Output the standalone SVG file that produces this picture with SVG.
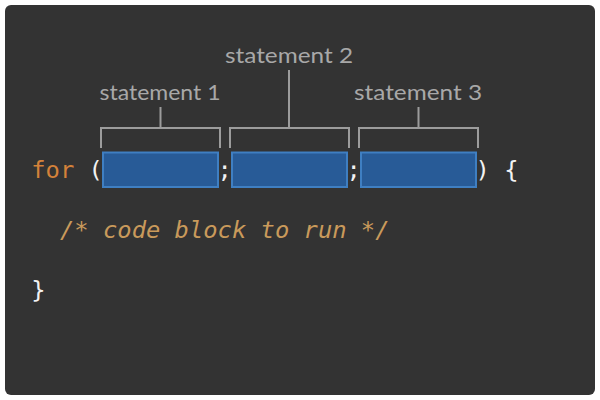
<svg xmlns="http://www.w3.org/2000/svg" width="600" height="400" viewBox="0 0 600 400">
<style>
.code{font-family:"DejaVu Sans Mono","Liberation Mono",monospace;font-size:23.8px}
.kw{fill:#d4823a}
.pl{fill:#f2f2f2}
.cm{fill:#c99a5b;font-style:italic}
.lbl{font-family:Lato,"Liberation Sans",Arial,sans-serif;font-size:22px;fill:#a8a8a8;text-anchor:middle}
.br{fill:none;stroke:#9c9c9c;stroke-width:2}
.box{fill:#285b97;stroke:#3f7fc2;stroke-width:2}
</style>
<rect x="0" y="0" width="600" height="400" fill="#ffffff"/>
<rect x="5" y="5" width="590" height="390" rx="6" fill="#333333"/>
<g id="code">
<text class="code kw" x="31.3" y="178">for</text>
<text class="code pl" x="88.6" y="178">(</text>
<text class="code pl" x="217.6" y="178">;</text>
<text class="code pl" x="346.6" y="178">;</text>
<text class="code pl" x="475.6" y="178">)</text>
<text class="code pl" x="504.3" y="178">{</text>
<text class="code cm" x="60" y="238">/* code block to run */</text>
<text class="code pl" x="31.3" y="298">}</text>
</g>
<g id="statement1">
<rect class="box" x="103" y="152.5" width="115" height="34.5"/>
<text class="lbl" x="160" y="100" textLength="121" lengthAdjust="spacingAndGlyphs">statement 1</text>
</g>
<g id="statement2">
<rect class="box" x="232" y="152.5" width="115" height="34.5"/>
<text class="lbl" x="289" y="63" textLength="128" lengthAdjust="spacingAndGlyphs">statement 2</text>
</g>
<g id="statement3">
<rect class="box" x="361" y="152.5" width="115" height="34.5"/>
<text class="lbl" x="418" y="100" textLength="128" lengthAdjust="spacingAndGlyphs">statement 3</text>
</g>
<g id="connectors">
<path class="br" d="M101 148V128H220V148M160.5 128V107"/>
<path class="br" d="M230 148V128H349V148M289 128V70"/>
<path class="br" d="M359 148V128H478V148M418.5 128V107"/>
</g>
</svg>
